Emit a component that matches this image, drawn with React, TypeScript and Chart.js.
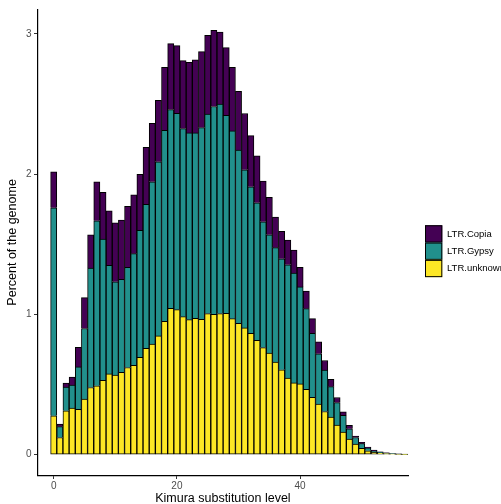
import React, { useEffect, useRef } from 'react';
import { Chart, registerables } from 'chart.js';

Chart.register(...registerables);

// Kimura substitution level bins
const kimura = [
  0, 1, 2, 3, 4, 5, 6, 7, 8, 9, 10, 11, 12, 13, 14, 15, 16, 17, 18, 19,
  20, 21, 22, 23, 24, 25, 26, 27, 28, 29, 30, 31, 32, 33, 34, 35, 36, 37, 38, 39,
  40, 41, 42, 43, 44, 45, 46, 47, 48, 49, 50, 51, 52, 53, 54, 55, 56, 57,
];

// Percent of the genome per family
const unknownVals = [
  0.278, 0.123, 0.313, 0.332, 0.323, 0.396, 0.479, 0.491, 0.531, 0.576,
  0.567, 0.588, 0.622, 0.638, 0.694, 0.759, 0.788, 0.847, 0.951, 1.044,
  1.034, 0.984, 0.963, 0.973, 0.966, 1.006, 1.001, 1.006, 1.008, 0.970,
  0.937, 0.904, 0.866, 0.816, 0.764, 0.724, 0.660, 0.605, 0.546, 0.512,
  0.505, 0.467, 0.410, 0.361, 0.308, 0.268, 0.211, 0.161, 0.112, 0.076,
  0.045, 0.028, 0.019, 0.012, 0.008, 0.005, 0.003, 0.002,
];

const gypsyVals = [
  1.482, 0.077, 0.169, 0.164, 0.303, 0.504, 0.852, 1.177, 1.006, 0.774,
  0.666, 0.662, 0.714, 0.795, 0.906, 1.025, 1.157, 1.241, 1.362, 1.416,
  1.400, 1.341, 1.331, 1.321, 1.366, 1.423, 1.481, 1.494, 1.412, 1.338,
  1.234, 1.127, 1.044, 0.980, 0.897, 0.844, 0.816, 0.792, 0.808, 0.783,
  0.691, 0.574, 0.456, 0.358, 0.296, 0.217, 0.161, 0.119, 0.073, 0.047,
  0.035, 0.022, 0.007, 0.006, 0.004, 0.003, 0.002, 0.001,
];

const copiaVals = [
  0.256, 0.018, 0.028, 0.057, 0.140, 0.220, 0.237, 0.277, 0.333, 0.389,
  0.420, 0.423, 0.434, 0.420, 0.398, 0.408, 0.418, 0.439, 0.449, 0.470,
  0.482, 0.484, 0.503, 0.520, 0.541, 0.560, 0.543, 0.513, 0.482, 0.454,
  0.420, 0.401, 0.365, 0.334, 0.289, 0.266, 0.218, 0.195, 0.176, 0.164,
  0.140, 0.126, 0.104, 0.085, 0.068, 0.052, 0.036, 0.026, 0.024, 0.010,
  0.008, 0.005, 0.007, 0.003, 0.002, 0.001, 0.001, 0.001,
];

const legendNames = ['LTR.Copia', 'LTR.Gypsy', 'LTR.unknown'];
const legendColors = ['#440154', '#21908C', '#FDE725'];

const xTicks = [0, 20, 40];
const yTicks = [0, 1, 2, 3];

const FONT = '"Liberation Sans", Arial, Helvetica, sans-serif';

const ggLegend = {
  id: 'ggLegend',
  afterDraw(chart: any) {
    const ctx = chart.ctx as CanvasRenderingContext2D;
    const area = chart.chartArea;
    const size = 17.3;
    const x0 = area.right + 16.7;
    const y0 = chart.height / 2 - (legendNames.length * size) / 2 - 0.8;
    ctx.save();
    legendNames.forEach((name, i) => {
      const y = y0 + i * size;
      ctx.fillStyle = legendColors[i];
      ctx.fillRect(x0, y, size, size);
      ctx.strokeStyle = '#000';
      ctx.lineWidth = 1;
      ctx.strokeRect(x0 + 0.5, y + 0.5, size - 1, size - 1);
      ctx.fillStyle = '#000';
      ctx.font = `9.5px ${FONT}`;
      ctx.textAlign = 'left';
      ctx.textBaseline = 'middle';
      ctx.fillText(name, x0 + size + 4.7, y + size / 2);
    });
    ctx.restore();
  },
};

export default function App() {
  const canvasRef = useRef<HTMLCanvasElement | null>(null);

  useEffect(() => {
    document.body.style.margin = '0';
    const canvas = canvasRef.current;
    if (!canvas) return;
    Chart.defaults.font.family = FONT;

    const mk = (vals: number[]) => kimura.map((x, i) => ({ x, y: vals[i] }));

    const common = {
      borderColor: '#000000',
      borderWidth: 1,
      barPercentage: 1,
      categoryPercentage: 1,
    };

    const axisGrid = {
      display: true,
      drawOnChartArea: false,
      drawTicks: true,
      tickLength: 3.5,
      color: '#333333',
      lineWidth: 1,
      offset: false,
    };
    const axisBorder = { display: true, color: '#000000', width: 1.2 };

    const chart = new Chart(canvas, {
      type: 'bar',
      data: {
        datasets: [
          { label: 'LTR.unknown', data: mk(unknownVals), backgroundColor: '#FDE725', borderSkipped: false, ...common },
          { label: 'LTR.Gypsy', data: mk(gypsyVals), backgroundColor: '#21908C', borderSkipped: 'start', ...common },
          { label: 'LTR.Copia', data: mk(copiaVals), backgroundColor: '#440154', borderSkipped: 'start', ...common },
        ] as any,
      },
      options: {
        responsive: false,
        maintainAspectRatio: false,
        animation: false,
        devicePixelRatio: 1,
        layout: { padding: { left: 0, right: 501 - 408.3, top: 9.3, bottom: 0 } },
        plugins: {
          legend: { display: false },
          tooltip: { enabled: false },
        },
        scales: {
          x: {
            type: 'linear',
            stacked: true,
            offset: false,
            min: -2.63,
            max: 57.56,
            afterBuildTicks: (s: any) => {
              s.ticks = xTicks.map((v) => ({ value: v }));
            },
            afterFit: (s: any) => {
              s.height = 28.5;
            },
            grid: axisGrid,
            border: axisBorder,
            ticks: {
              color: '#4D4D4D',
              font: { size: 10 },
              padding: 1.5,
              maxRotation: 0,
              autoSkip: false,
              callback: (v: any) => String(v),
            },
            title: {
              display: true,
              text: 'Kimura substitution level',
              color: '#000000',
              font: { size: 12.5, lineHeight: 1 },
              padding: { top: 0, bottom: -0.5 },
            },
          },
          y: {
            type: 'linear',
            stacked: true,
            min: -0.148,
            max: 3.175,
            afterBuildTicks: (s: any) => {
              s.ticks = yTicks.map((v) => ({ value: v }));
            },
            afterFit: (s: any) => {
              s.width = 37.5;
            },
            grid: axisGrid,
            border: axisBorder,
            ticks: {
              color: '#4D4D4D',
              font: { size: 10 },
              padding: 2.5,
              callback: (v: any) => String(v),
            },
            title: {
              display: true,
              text: 'Percent of the genome',
              color: '#000000',
              font: { size: 12.5, lineHeight: 1 },
              padding: { top: 6.5, bottom: 0 },
            },
          },
        } as any,
      },
      plugins: [ggLegend],
    });

    return () => chart.destroy();
  }, []);

  return (
    <div style={{ width: 501, height: 504, position: 'relative', background: '#fff' }}>
      <canvas ref={canvasRef} width={501} height={504} style={{ display: 'block' }} />
    </div>
  );
}
